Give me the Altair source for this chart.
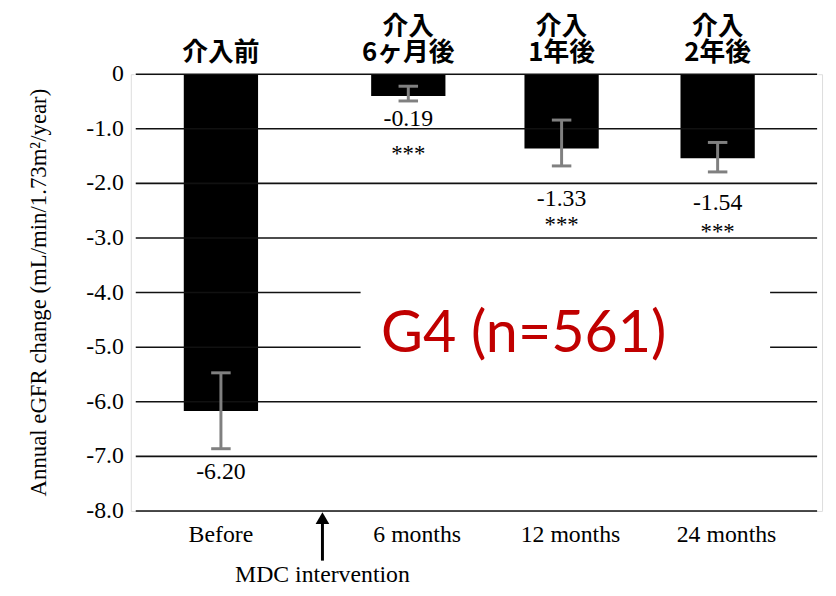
import altair as alt
import pandas as pd

# ---- data ----
categories = ["Before", "6 months", "12 months", "24 months"]
bar_values = [-6.17, -0.40, -1.36, -1.54]
err_upper = [-5.47, -0.22, -0.84, -1.25]
err_lower = [-6.86, -0.49, -1.68, -1.79]
value_labels = ["-6.20", "-0.19", "-1.33", "-1.54"]
significance = ["", "***", "***", "***"]
jp_titles = ["\n介入前", "介入\n6ヶ月後", "介入\n1年後", "介入\n2年後"]
y_ticks = [0, -1, -2, -3, -4, -5, -6, -7, -8]
group_label = "G4 (n=561)"
intervention_label = "MDC intervention"
y_title = "Annual eGFR change (mL/min/1.73m²/year)"

# ---- layout (x slots on a 0..10 scale, annotation anchors) ----
x_pos = [1.25, 4.0, 6.25, 8.54]
label_y = [-7.29, -0.82, -2.29, -2.36]
star_y = [-9.9, -1.47, -2.76, -2.90]
cap_half = 0.143
arrow_x = 2.74

df = pd.DataFrame({
    "cat": categories, "x": x_pos, "val": bar_values,
    "hi": err_upper, "lo": err_lower, "lab": value_labels,
    "sig": significance, "jp": jp_titles, "ly": label_y, "sy": star_y,
})
df["cl"] = df["x"] - cap_half
df["cr"] = df["x"] + cap_half

xs = alt.Scale(domain=[0, 10], nice=False, zero=False)
ys = alt.Scale(domain=[-8, 0], nice=False, zero=False)
SERIF = "Liberation Serif"

base = alt.Chart(df)

bars = base.mark_bar(color="black", size=75).encode(
    x=alt.X("x:Q", scale=xs, axis=None),
    y=alt.Y("val:Q", scale=ys, axis=alt.Axis(
        labels=False, ticks=False, domain=False, grid=False, title="")),
    y2=alt.datum(0),
)

frame_cover = [
    alt.Chart().mark_rule(color="white", strokeWidth=3).encode(
        x=alt.X(datum=xv, axis=None), y=alt.Y(datum=0, axis=None),
        y2=alt.datum(-8))
    for xv in (0, 10)
]

grid_layers = [
    alt.Chart().mark_rule(color="#111", strokeWidth=1.6).encode(
        x=alt.X(datum=0, axis=None), x2=alt.datum(10),
        y=alt.Y(datum=t, axis=None))
    for t in y_ticks
]
tick_label_layers = [
    alt.Chart().mark_text(text=("0" if t == 0 else f"{t:.1f}"), font=SERIF,
                          fontSize=24, color="black", align="right",
                          baseline="middle", dx=-12).encode(
        x=alt.X(datum=0, axis=None), y=alt.Y(datum=t, axis=None))
    for t in y_ticks
]

ytitle = alt.Chart().mark_text(text=y_title, font=SERIF, fontSize=23,
                               color="black", angle=270,
                               baseline="middle").encode(
    x=alt.X(datum=-1.42, axis=None), y=alt.Y(datum=-4, axis=None))

stems = base.mark_rule(color="#808080", strokeWidth=3).encode(
    x=alt.X("x:Q", axis=None), y=alt.Y("hi:Q", axis=None), y2="lo:Q")
cap_hi = base.mark_rule(color="#808080", strokeWidth=3).encode(
    x=alt.X("cl:Q", axis=None), x2="cr:Q", y=alt.Y("hi:Q", axis=None))
cap_lo = base.mark_rule(color="#808080", strokeWidth=3).encode(
    x=alt.X("cl:Q", axis=None), x2="cr:Q", y=alt.Y("lo:Q", axis=None))

vals = base.mark_text(font=SERIF, fontSize=24, color="black", baseline="middle").encode(
    x=alt.X("x:Q", axis=None), y=alt.Y("ly:Q", axis=None), text="lab:N")
stars = base.mark_text(font=SERIF, fontSize=23, color="black", baseline="middle").encode(
    x=alt.X("x:Q", axis=None), y=alt.Y("sy:Q", axis=None), text="sig:N")

titles = base.mark_text(font="Noto Sans CJK JP", fontSize=26, fontWeight="bold",
                        color="black", baseline="bottom", lineBreak="\n",
                        lineHeight=27).encode(
    x=alt.X("x:Q", axis=None), y=alt.value(-35), text="jp:N")

cats_before = base.transform_filter("datum.cat == 'Before'").mark_text(
    font=SERIF, fontSize=24, color="black", baseline="middle").encode(
    x=alt.X("x:Q", axis=None), y=alt.datum(-8.45), text="cat:N")
cats_after = base.transform_filter("datum.cat != 'Before'").mark_text(
    font=SERIF, fontSize=24, color="black", baseline="middle", dx=9).encode(
    x=alt.X("x:Q", axis=None), y=alt.datum(-8.45), text="cat:N")

mask = alt.Chart().mark_rect(color="white").encode(
    x=alt.X(datum=3.30, axis=None), x2=alt.datum(9.31),
    y=alt.Y(datum=-3.6, axis=None), y2=alt.datum(-5.4))

g4 = alt.Chart().mark_text(text=group_label, font="Lato", fontSize=58,
                           color="#C00000", align="left",
                           baseline="alphabetic").encode(
    x=alt.X(datum=3.60, axis=None), y=alt.Y(datum=-5.08, axis=None))

shaft = alt.Chart().mark_rule(color="black", strokeWidth=3).encode(
    x=alt.X(datum=arrow_x, axis=None), y=alt.Y(datum=-8.18, axis=None),
    y2=alt.datum(-8.91))
head = alt.Chart().mark_point(shape="triangle-up", filled=True, size=190,
                              color="black", opacity=1).encode(
    x=alt.X(datum=arrow_x, axis=None), y=alt.Y(datum=-8.13, axis=None))
mdc = alt.Chart().mark_text(text=intervention_label, font=SERIF, fontSize=24,
                            color="black", baseline="middle").encode(
    x=alt.X(datum=arrow_x, axis=None), y=alt.Y(datum=-9.18, axis=None))

chart = alt.layer(
    bars, *frame_cover, *grid_layers, *tick_label_layers, ytitle, mask, g4,
    stems, cap_hi, cap_lo, vals, stars, titles,
    cats_before, cats_after, shaft, head, mdc
).properties(
    width=698, height=441,
    autosize=alt.AutoSizeParams(type="none"),
    padding={"left": 124, "top": 64, "right": 6, "bottom": 80},
).configure_view(stroke=None).configure(background="white")

chart.save("out.html", embed_options={"renderer": "svg", "actions": False})
